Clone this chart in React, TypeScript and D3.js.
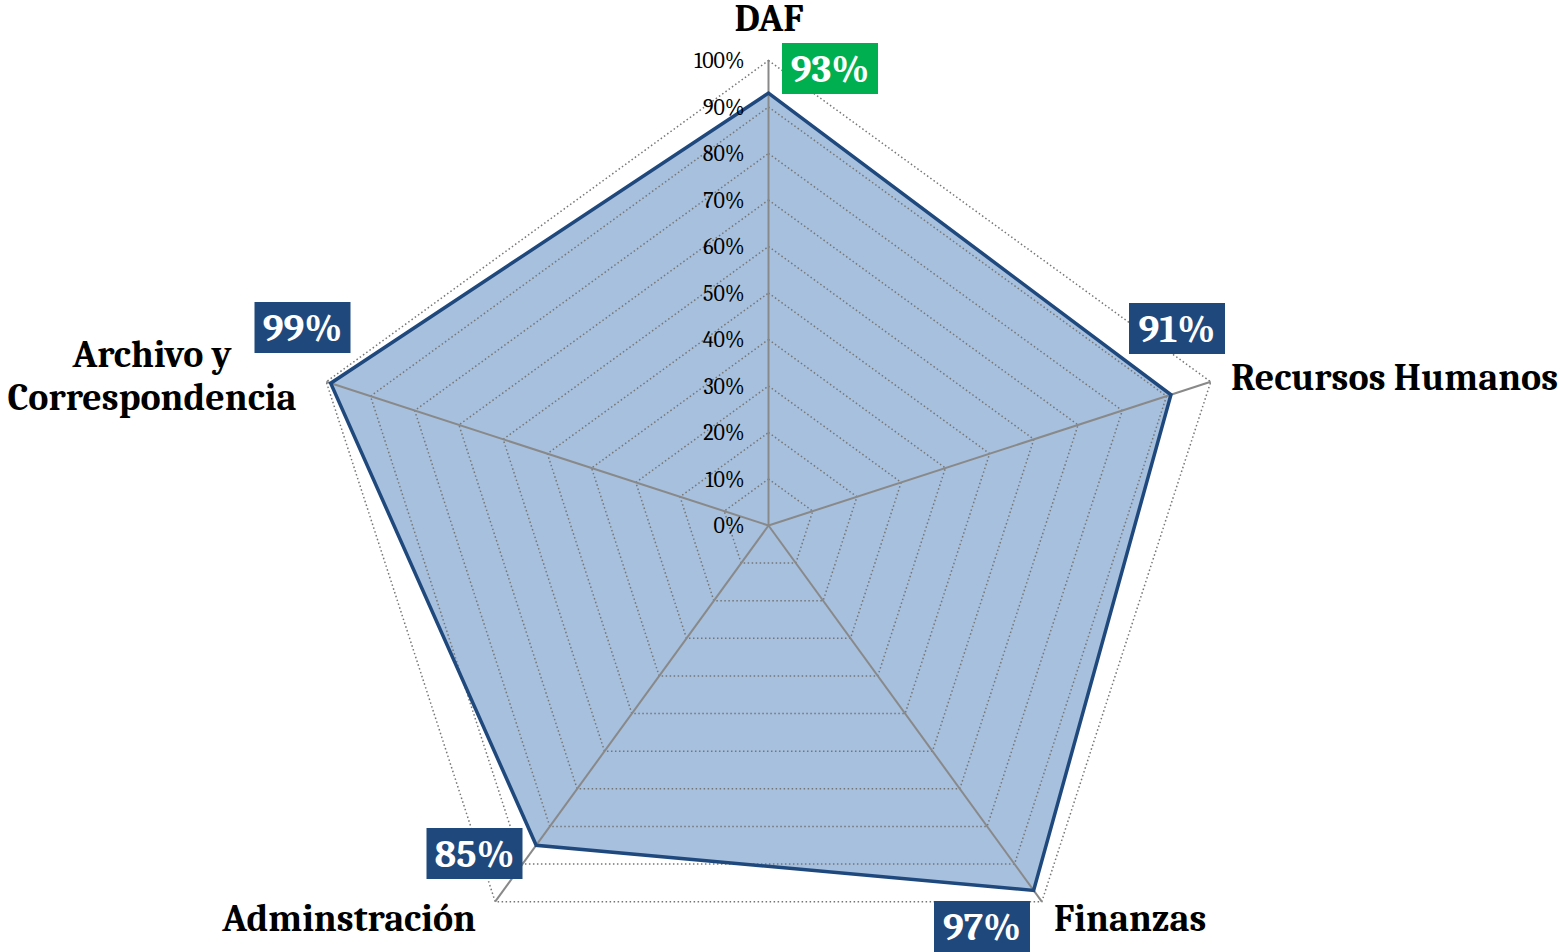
import React from "react";
import * as d3 from "d3";

const categories = ["DAF", "Recursos Humanos", "Finanzas", "Adminstración", "Archivo y Correspondencia"];
const values = [0.93, 0.91, 0.97, 0.85, 0.99];
const ticks = [0, 0.1, 0.2, 0.3, 0.4, 0.5, 0.6, 0.7, 0.8, 0.9, 1.0];
const labelColors = ["#00B050", "#1F497D", "#1F497D", "#1F497D", "#1F497D"];

const W = 1560, H = 952;
const cx = 768.5, cy = 525.5;
const R = 465;
const FONT = "Cambria, Caladea, 'DejaVu Serif', serif";

export default function App() {
  const r = d3.scaleLinear().domain([0, 1]).range([0, R]);
  const n = categories.length;
  const ang = (i: number) => (i * 2 * Math.PI) / n;
  const pt = (i: number, v: number): [number, number] => [
    cx + r(v) * Math.sin(ang(i)),
    cy - r(v) * Math.cos(ang(i)),
  ];
  const line = d3.line<[number, number]>().curve(d3.curveLinearClosed);
  const dataPts = values.map((v, i) => pt(i, v));

  const boxes: { x: number; y: number }[] = [
    { x: 830, y: 68.5 },
    { x: 1177, y: 328.5 },
    { x: 982, y: 926.5 },
    { x: 474.5, y: 853.5 },
    { x: 302.5, y: 327.5 },
  ];

  const catStyle = { fontFamily: FONT, fontWeight: "bold" as const, fontSize: 38, fill: "#000" };

  return (
    <svg width={W} height={H} style={{ position: "absolute", left: 0, top: 0 }}>
      <rect width={W} height={H} fill="#fff" />
      <path d={line(dataPts) || ""} fill="#A7C0DE" />
      {ticks.slice(1).map((t) => (
        <path
          key={t}
          d={line(categories.map((_, i) => pt(i, t))) || ""}
          fill="none"
          stroke="#767676"
          strokeWidth={1.5}
          strokeDasharray="1.5 2.5"
        />
      ))}
      {categories.map((_, i) => {
        const [x, y] = pt(i, 1);
        return <line key={i} x1={cx} y1={cy} x2={x} y2={y} stroke="#898989" strokeWidth={2} />;
      })}
      <path d={line(dataPts) || ""} fill="none" stroke="#1F497D" strokeWidth={3.5} strokeLinejoin="miter" />
      {ticks.map((t) => (
        <text
          key={t}
          x={cx - 24}
          y={cy - r(t) + 7.5}
          textAnchor="end"
          fontFamily={FONT}
          fontSize={22}
          fill="#000"
        >
          {Math.round(t * 100)}%
        </text>
      ))}
      {values.map((v, i) => (
        <g key={i}>
          <rect x={boxes[i].x - 48} y={boxes[i].y - 25.5} width={96} height={51} fill={labelColors[i]} />
          <text
            x={boxes[i].x}
            y={boxes[i].y + 13.5}
            textAnchor="middle"
            fontFamily={FONT}
            fontWeight="bold"
            fontSize={39}
            fill="#fff"
          >
            {Math.round(v * 100)}%
          </text>
        </g>
      ))}
      <text x={769} y={31} textAnchor="middle" {...catStyle}>
        {categories[0]}
      </text>
      <text x={1231} y={390} textAnchor="start" {...catStyle}>
        {categories[1]}
      </text>
      <text x={1054} y={931} textAnchor="start" {...catStyle}>
        {categories[2]}
      </text>
      <text x={476} y={931} textAnchor="end" {...catStyle}>
        {categories[3]}
      </text>
      <text x={152} y={367} textAnchor="middle" {...catStyle}>
        Archivo y
      </text>
      <text x={152} y={410} textAnchor="middle" {...catStyle}>
        Correspondencia
      </text>
    </svg>
  );
}
